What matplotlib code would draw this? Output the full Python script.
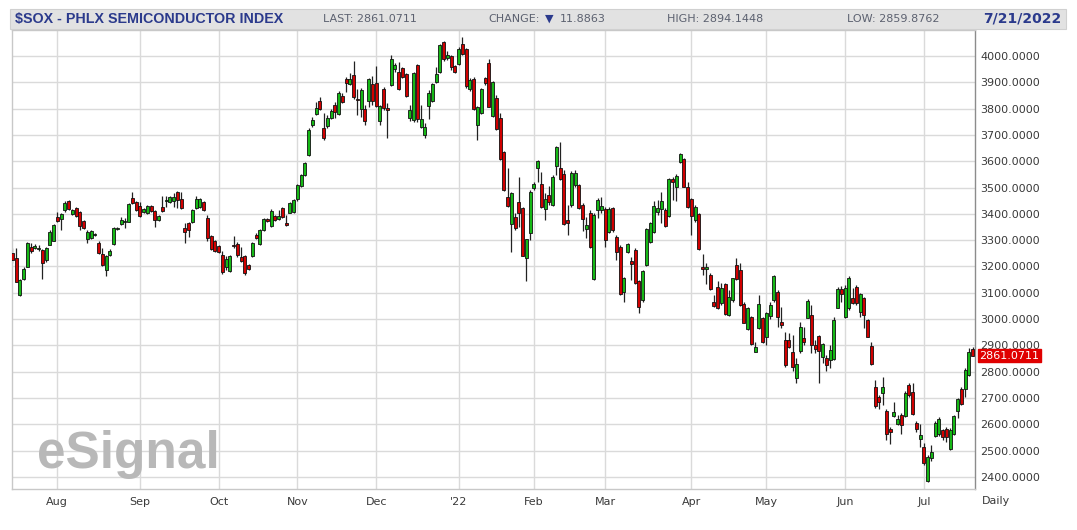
import numpy as np
import pandas as pd
import matplotlib
matplotlib.use('Agg')
import matplotlib.pyplot as plt
from matplotlib.patches import Rectangle
from matplotlib.transforms import blended_transform_factory

# daily OHLC, 2021-07-15 .. 2022-07-21
opens = [3250, 3231, 3092, 3151, 3199, 3275, 3270, 3265, 3263, 3225, 3282, 3298, 3389, 3379, 3415, 3449, 3400, 3421, 3408, 3374,
         3303, 3307, 3320, 3291, 3247, 3187, 3244, 3284, 3343, 3360, 3368, 3370, 3459, 3444, 3431, 3406, 3402, 3431, 3411, 3377,
         3427, 3450, 3446, 3448, 3484, 3456, 3345, 3364, 3370, 3421, 3427, 3446, 3383, 3316, 3298, 3278, 3244, 3199, 3184, 3282,
         3286, 3235, 3240, 3206, 3240, 3320, 3286, 3339, 3379, 3354, 3392, 3380, 3421, 3367, 3405, 3408, 3455, 3506, 3548, 3624,
         3738, 3780, 3830, 3725, 3734, 3763, 3814, 3780, 3848, 3911, 3894, 3928, 3836, 3797, 3797, 3830, 3894, 3898, 3754, 3873,
         3801, 3890, 3949, 3940, 3953, 3932, 3763, 3757, 3966, 3731, 3700, 3810, 3830, 3902, 3940, 4054, 3991, 4000, 3962, 3970,
         4045, 4025, 3873, 3911, 3738, 3782, 3915, 3975, 3772, 3839, 3765, 3636, 3465, 3361, 3389, 3446, 3421, 3231, 3326, 3497,
         3573, 3513, 3417, 3472, 3434, 3582, 3573, 3552, 3377, 3434, 3510, 3510, 3434, 3341, 3402, 3151, 3415, 3415, 3417, 3332,
         3421, 3313, 3275, 3104, 3256, 3222, 3263, 3146, 3073, 3206, 3294, 3332, 3408, 3417, 3415, 3392, 3531, 3503, 3598, 3607,
         3503, 3455, 3377, 3400, 3199, 3189, 3168, 3066, 3123, 3063, 3133, 3016, 3073, 3206, 3187, 3057, 2961, 3009, 2876, 2965,
         3003, 2933, 3012, 3073, 3104, 2990, 2921, 2921, 2874, 2775, 2879, 2929, 3005, 3016, 2902, 2937, 2857, 2853, 2845, 2848,
         3043, 3114, 3009, 3041, 3082, 3123, 3028, 3082, 2995, 2898, 2743, 2705, 2718, 2652, 2584, 2632, 2601, 2636, 2632, 2750,
         2724, 2606, 2543, 2513, 2386, 2471, 2556, 2563, 2579, 2581, 2505, 2563, 2652, 2733, 2733, 2788, 2885]
highs = [3269, 3269, 3152, 3197, 3294, 3288, 3285, 3280, 3268, 3275, 3339, 3362, 3408, 3402, 3450, 3453, 3419, 3427, 3411, 3378,
         3339, 3340, 3328, 3295, 3269, 3245, 3265, 3351, 3350, 3389, 3383, 3440, 3482, 3448, 3446, 3423, 3434, 3434, 3415, 3396,
         3469, 3469, 3468, 3478, 3487, 3484, 3364, 3370, 3418, 3469, 3459, 3450, 3394, 3320, 3302, 3282, 3257, 3240, 3245, 3316,
         3294, 3275, 3245, 3210, 3294, 3329, 3343, 3383, 3383, 3417, 3396, 3415, 3425, 3396, 3444, 3457, 3514, 3552, 3598, 3725,
         3767, 3826, 3843, 3785, 3776, 3797, 3826, 3868, 3858, 3922, 3937, 3982, 3873, 3877, 3814, 3915, 3924, 3962, 3815, 3883,
         3822, 4004, 3972, 3978, 3957, 3937, 3814, 3940, 3970, 3814, 3744, 3871, 3898, 3957, 4045, 4058, 4020, 4004, 3966, 4035,
         4071, 4029, 3915, 3920, 3811, 3877, 3922, 3990, 3905, 3850, 3782, 3640, 3573, 3484, 3402, 3541, 3427, 3305, 3491, 3522,
         3605, 3560, 3478, 3506, 3548, 3658, 3674, 3567, 3434, 3564, 3567, 3514, 3440, 3389, 3415, 3402, 3459, 3465, 3427, 3427,
         3427, 3320, 3282, 3161, 3288, 3237, 3269, 3148, 3187, 3345, 3370, 3450, 3453, 3484, 3421, 3535, 3541, 3552, 3633, 3611,
         3522, 3459, 3434, 3405, 3247, 3212, 3177, 3092, 3146, 3136, 3136, 3111, 3158, 3231, 3215, 3066, 3045, 3012, 2914, 3092,
         3009, 3028, 3064, 3168, 3111, 3047, 2952, 2946, 2940, 2851, 2990, 2971, 3076, 3054, 2921, 2940, 2908, 2864, 2902, 3009,
         3123, 3127, 3130, 3165, 3120, 3130, 3098, 3085, 3000, 2914, 2769, 2712, 2781, 2657, 2591, 2686, 2636, 2642, 2728, 2756,
         2758, 2614, 2601, 2528, 2484, 2522, 2614, 2627, 2581, 2589, 2585, 2636, 2699, 2743, 2813, 2889, 2894]
lows = [3212, 3140, 3088, 3149, 3197, 3253, 3265, 3260, 3151, 3218, 3280, 3296, 3370, 3339, 3408, 3414, 3397, 3389, 3339, 3342,
        3288, 3303, 3316, 3246, 3202, 3164, 3240, 3282, 3340, 3358, 3345, 3368, 3436, 3412, 3389, 3402, 3400, 3406, 3351, 3374,
        3408, 3427, 3443, 3427, 3421, 3418, 3288, 3313, 3367, 3418, 3424, 3411, 3295, 3262, 3256, 3252, 3172, 3187, 3180, 3269,
        3237, 3218, 3168, 3185, 3236, 3303, 3282, 3335, 3370, 3351, 3373, 3375, 3383, 3355, 3402, 3404, 3450, 3502, 3545, 3620,
        3729, 3776, 3795, 3681, 3725, 3760, 3763, 3776, 3820, 3865, 3890, 3835, 3776, 3767, 3738, 3808, 3814, 3807, 3738, 3795,
        3687, 3886, 3940, 3871, 3915, 3845, 3754, 3750, 3750, 3725, 3687, 3759, 3825, 3899, 3937, 3982, 3985, 3947, 3935, 3966,
        4004, 3880, 3866, 3795, 3680, 3778, 3890, 3805, 3770, 3718, 3605, 3487, 3427, 3256, 3340, 3351, 3238, 3146, 3301, 3491,
        3522, 3421, 3377, 3434, 3430, 3548, 3529, 3358, 3320, 3427, 3503, 3417, 3336, 3307, 3269, 3148, 3383, 3402, 3275, 3326,
        3332, 3225, 3092, 3066, 3250, 3148, 3133, 3025, 3066, 3202, 3288, 3326, 3396, 3364, 3349, 3389, 3453, 3450, 3595, 3501,
        3421, 3320, 3370, 3262, 3168, 3133, 3111, 3047, 3037, 3054, 3016, 3012, 3066, 3149, 3050, 2984, 2958, 2902, 2874, 2961,
        2908, 2902, 3000, 3066, 2971, 2965, 2819, 2889, 2803, 2756, 2870, 2902, 3003, 2870, 2870, 2756, 2832, 2803, 2813, 2845,
        3041, 3064, 3005, 3035, 3056, 3054, 3009, 2965, 2930, 2825, 2661, 2657, 2674, 2540, 2525, 2627, 2598, 2563, 2627, 2705,
        2636, 2572, 2515, 2445, 2382, 2462, 2551, 2556, 2540, 2534, 2502, 2560, 2623, 2674, 2705, 2784, 2860]
closes = [3225, 3142, 3149, 3189, 3291, 3258, 3278, 3272, 3212, 3269, 3332, 3358, 3374, 3400, 3440, 3417, 3415, 3392, 3354, 3345,
          3332, 3336, 3324, 3250, 3206, 3240, 3259, 3345, 3347, 3377, 3372, 3436, 3440, 3415, 3393, 3419, 3431, 3410, 3377, 3393,
          3411, 3454, 3465, 3465, 3453, 3421, 3332, 3339, 3415, 3456, 3456, 3415, 3307, 3265, 3260, 3256, 3180, 3227, 3240, 3276,
          3244, 3222, 3177, 3190, 3290, 3307, 3339, 3379, 3374, 3412, 3377, 3392, 3389, 3358, 3440, 3453, 3510, 3548, 3592, 3719,
          3757, 3801, 3797, 3687, 3763, 3792, 3788, 3861, 3826, 3899, 3911, 3843, 3834, 3871, 3754, 3911, 3830, 3810, 3810, 3801,
          3795, 3987, 3966, 3873, 3919, 3848, 3795, 3937, 3759, 3759, 3731, 3861, 3894, 3932, 4042, 3987, 4004, 3957, 3940, 4025,
          4007, 3885, 3909, 3800, 3807, 3873, 3896, 3807, 3902, 3721, 3607, 3491, 3430, 3478, 3345, 3405, 3240, 3303, 3484, 3513,
          3602, 3427, 3455, 3446, 3539, 3655, 3531, 3362, 3364, 3557, 3557, 3421, 3379, 3358, 3275, 3396, 3453, 3430, 3301, 3417,
          3339, 3256, 3095, 3155, 3285, 3209, 3136, 3047, 3184, 3341, 3364, 3430, 3421, 3450, 3354, 3531, 3522, 3544, 3628, 3503,
          3427, 3392, 3427, 3265, 3189, 3199, 3113, 3050, 3041, 3117, 3019, 3085, 3155, 3151, 3054, 2986, 3041, 2905, 2895, 3057,
          2914, 3022, 3055, 3165, 3009, 2978, 2826, 2895, 2819, 2828, 2971, 2914, 3069, 2902, 2886, 2879, 2904, 2826, 2883, 2997,
          3114, 3094, 3120, 3158, 3060, 3060, 3094, 3016, 2933, 2829, 2670, 2686, 2741, 2563, 2572, 2648, 2619, 2598, 2720, 2712,
          2639, 2581, 2560, 2452, 2477, 2496, 2606, 2619, 2551, 2551, 2579, 2632, 2695, 2677, 2807, 2873, 2861]

holidays = ['2021-09-06', '2021-11-25', '2021-12-24', '2022-01-17', '2022-02-21',
            '2022-04-15', '2022-05-30', '2022-06-20', '2022-07-04']
month_names = ['Aug', 'Sep', 'Oct', 'Nov', 'Dec', "'22", 'Feb', 'Mar', 'Apr', 'May', 'Jun', 'Jul']
price_ticks = list(range(2400, 4001, 100))
last_price = '2861.0711'

days = pd.bdate_range('2021-07-15', '2022-07-21')
days = days[~days.isin(pd.to_datetime(holidays))]

n = min(len(days), len(opens))
o = np.array(opens[:n], float)
h = np.array(highs[:n], float)
l = np.array(lows[:n], float)
c = np.array(closes[:n], float)
x = np.arange(n)

# first trading day of each month (skip July 2021)
first_idx = [i for i in range(1, n) if days[i].month != days[i - 1].month]

W, H = 1077, 530
fig = plt.figure(figsize=(W / 100, H / 100), dpi=100)

def fx(px):
    return px / W

def fy(py):
    return 1 - py / H

ax = fig.add_axes([fx(12), fy(489), (975 - 12) / W, (489 - 30) / H])
ax.set_xlim(-0.07, 256.6)
ax.set_ylim(2354, 4099)

grid_c = '#dadada'
for i in first_idx:
    ax.axvline(i, color=grid_c, lw=1.0, zorder=0)
for p in price_ticks:
    ax.axhline(p, color=grid_c, lw=1.0, zorder=0)

up = c >= o
green = '#16b816'
red = '#d00000'
ax.vlines(x, l, h, color='#222222', lw=0.9, zorder=2)
bottom = np.minimum(o, c)
height = np.maximum(np.abs(c - o), 3)
ax.bar(x[up], height[up], bottom=bottom[up], width=0.8, color=green,
       edgecolor='#111111', linewidth=0.6, zorder=3)
ax.bar(x[~up], height[~up], bottom=bottom[~up], width=0.8, color=red,
       edgecolor='#111111', linewidth=0.6, zorder=3)

ax.yaxis.tick_right()
ax.set_yticks(price_ticks)
ax.set_yticklabels(['%.4f' % p for p in price_ticks])
ax.set_xticks(first_idx)
ax.set_xticklabels(month_names[:len(first_idx)])
ax.tick_params(axis='y', length=0, pad=4, labelsize=8, labelcolor='#3a3a3a')
ax.tick_params(axis='x', length=0, pad=6, labelsize=8, labelcolor='#3a3a3a')

for s in ['left', 'top', 'bottom']:
    ax.spines[s].set_color('#c8c8c8')
    ax.spines[s].set_linewidth(1.0)
ax.spines['right'].set_color('#8c8c8c')
ax.spines['right'].set_linewidth(1.0)

# last price flag
tr = blended_transform_factory(ax.transAxes, ax.transData)
ax.text(1.0045, 2861.07, last_price, transform=tr, va='center', ha='left',
        fontsize=8, color='white', clip_on=False, zorder=6,
        bbox=dict(boxstyle='square,pad=0.15', fc='#e00000', ec='#e00000'))

# eSignal watermark
fig.text(fx(37), fy(468), 'eSignal', fontfamily='Liberation Sans', fontweight='bold',
         fontsize=37, color='#b8b8b8', va='baseline', ha='left', zorder=0.5)

# header bar
fig.add_artist(Rectangle((fx(10), fy(29)), fx(1066) - fx(10), fy(9) - fy(29),
                         transform=fig.transFigure, fc='#e2e2e2', ec='#d0d0d0', lw=0.8))
blue = '#2b3a8c'
grey = '#5c6170'
fig.text(fx(15), fy(19), '$SOX - PHLX SEMICONDUCTOR INDEX', fontfamily='Liberation Sans',
         fontweight='bold', fontsize=10.3, color=blue, va='center')
fig.text(fx(323), fy(19), 'LAST: 2861.0711', fontsize=8, color=grey, va='center')
fig.text(fx(488), fy(19), 'CHANGE:', fontsize=8, color=grey, va='center')
fig.text(fx(545), fy(19), '\u25bc', fontsize=8, color=blue, va='center')
fig.text(fx(560), fy(19), '11.8863', fontsize=8, color=grey, va='center')
fig.text(fx(667), fy(19), 'HIGH: 2894.1448', fontsize=8, color=grey, va='center')
fig.text(fx(847), fy(19), 'LOW: 2859.8762', fontsize=8, color=grey, va='center')
fig.text(fx(983), fy(19), '7/21/2022', fontsize=10, fontweight='bold', color=blue, va='center')

fig.text(fx(982), fy(501), 'Daily', fontsize=8, color='#3a3a3a', va='center')

fig.savefig('out.png', dpi=100)
